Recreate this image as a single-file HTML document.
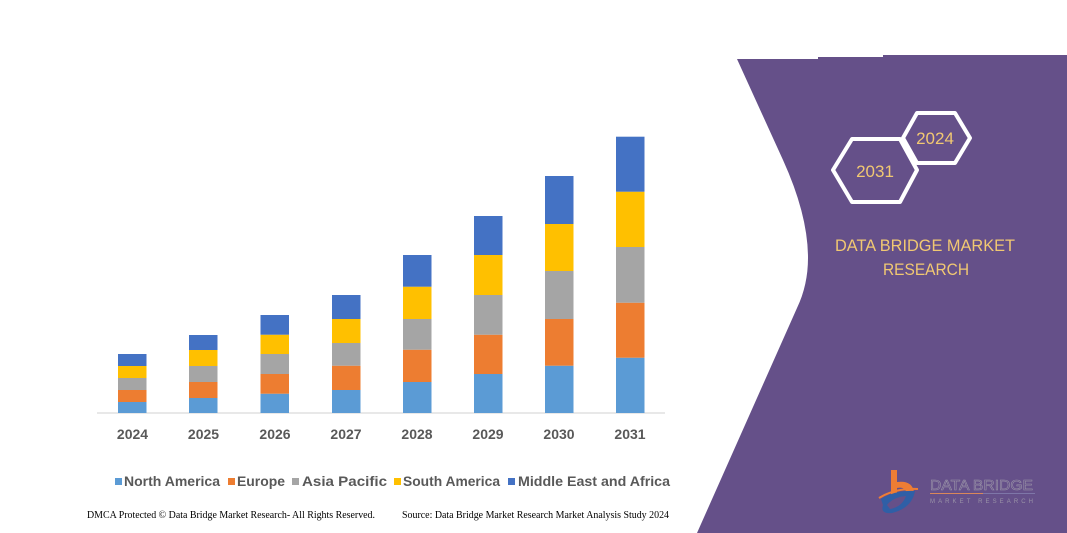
<!DOCTYPE html>
<html>
<head>
<meta charset="utf-8">
<style>
  html, body { margin:0; padding:0; background:#ffffff; }
  body { width:1067px; height:533px; overflow:hidden; }
  svg { display:block; }
</style>
</head>
<body>
<svg width="1067" height="533" viewBox="0 0 1067 533" xmlns="http://www.w3.org/2000/svg">
  <rect x="0" y="0" width="1067" height="533" fill="#ffffff"/>

  <!-- Purple panel -->
  <path d="M737,59 L818,59 L818,57 L883,57 L883,55 L1067,55 L1067,533 L697,533 L797,308 Q808,285 808,258 Q808,215 783,160 Z" fill="#655089"/>

  <!-- Axis line -->
  <line x1="97" y1="413" x2="665" y2="413" stroke="#d9d9d9" stroke-width="1.2"/>

  <!-- Bars: light blue, orange, gray, yellow, dark blue -->
  <g>
    <!-- 2024 -->
    <rect x="118" y="402" width="28.5" height="11" fill="#5b9bd5"/>
    <rect x="118" y="390" width="28.5" height="12" fill="#ed7d31"/>
    <rect x="118" y="378" width="28.5" height="12" fill="#a5a5a5"/>
    <rect x="118" y="366" width="28.5" height="12" fill="#ffc000"/>
    <rect x="118" y="354" width="28.5" height="12" fill="#4472c4"/>
    <!-- 2025 -->
    <rect x="189" y="398" width="28.5" height="15" fill="#5b9bd5"/>
    <rect x="189" y="382" width="28.5" height="16" fill="#ed7d31"/>
    <rect x="189" y="366" width="28.5" height="16" fill="#a5a5a5"/>
    <rect x="189" y="350" width="28.5" height="16" fill="#ffc000"/>
    <rect x="189" y="335" width="28.5" height="15" fill="#4472c4"/>
    <!-- 2026 -->
    <rect x="260.5" y="393.7" width="28.5" height="19.3" fill="#5b9bd5"/>
    <rect x="260.5" y="374" width="28.5" height="19.7" fill="#ed7d31"/>
    <rect x="260.5" y="354" width="28.5" height="20" fill="#a5a5a5"/>
    <rect x="260.5" y="334.7" width="28.5" height="19.3" fill="#ffc000"/>
    <rect x="260.5" y="315" width="28.5" height="19.7" fill="#4472c4"/>
    <!-- 2027 -->
    <rect x="332" y="390" width="28.5" height="23" fill="#5b9bd5"/>
    <rect x="332" y="365.7" width="28.5" height="24.3" fill="#ed7d31"/>
    <rect x="332" y="343" width="28.5" height="22.7" fill="#a5a5a5"/>
    <rect x="332" y="319" width="28.5" height="24" fill="#ffc000"/>
    <rect x="332" y="295" width="28.5" height="24" fill="#4472c4"/>
    <!-- 2028 -->
    <rect x="403" y="382" width="28.5" height="31" fill="#5b9bd5"/>
    <rect x="403" y="349.7" width="28.5" height="32.3" fill="#ed7d31"/>
    <rect x="403" y="319" width="28.5" height="30.7" fill="#a5a5a5"/>
    <rect x="403" y="286.7" width="28.5" height="32.3" fill="#ffc000"/>
    <rect x="403" y="255" width="28.5" height="31.7" fill="#4472c4"/>
    <!-- 2029 -->
    <rect x="474" y="374" width="28.5" height="39" fill="#5b9bd5"/>
    <rect x="474" y="334.7" width="28.5" height="39.3" fill="#ed7d31"/>
    <rect x="474" y="295" width="28.5" height="39.7" fill="#a5a5a5"/>
    <rect x="474" y="255" width="28.5" height="40" fill="#ffc000"/>
    <rect x="474" y="216" width="28.5" height="39" fill="#4472c4"/>
    <!-- 2030 -->
    <rect x="545" y="365.7" width="28.5" height="47.3" fill="#5b9bd5"/>
    <rect x="545" y="319" width="28.5" height="46.7" fill="#ed7d31"/>
    <rect x="545" y="271" width="28.5" height="48" fill="#a5a5a5"/>
    <rect x="545" y="224" width="28.5" height="47" fill="#ffc000"/>
    <rect x="545" y="176" width="28.5" height="48" fill="#4472c4"/>
    <!-- 2031 -->
    <rect x="616" y="357.7" width="28.5" height="55.3" fill="#5b9bd5"/>
    <rect x="616" y="302.7" width="28.5" height="55" fill="#ed7d31"/>
    <rect x="616" y="247" width="28.5" height="55.7" fill="#a5a5a5"/>
    <rect x="616" y="191.7" width="28.5" height="55.3" fill="#ffc000"/>
    <rect x="616" y="136.7" width="28.5" height="55" fill="#4472c4"/>
  </g>

  <!-- Year labels -->
  <g font-family="Liberation Sans, sans-serif" font-weight="bold" font-size="14" fill="#595959" text-anchor="middle">
    <text x="132.5" y="439">2024</text>
    <text x="203.5" y="439">2025</text>
    <text x="275" y="439">2026</text>
    <text x="346" y="439">2027</text>
    <text x="417" y="439">2028</text>
    <text x="488" y="439">2029</text>
    <text x="559" y="439">2030</text>
    <text x="630" y="439">2031</text>
  </g>

  <!-- Legend -->
  <g font-family="Liberation Sans, sans-serif" font-weight="bold" font-size="14" fill="#595959">
    <rect x="115" y="478" width="7" height="7" fill="#5b9bd5"/>
    <text x="124" y="486" textLength="96" lengthAdjust="spacingAndGlyphs">North America</text>
    <rect x="228" y="478" width="7" height="7" fill="#ed7d31"/>
    <text x="237" y="486" textLength="48" lengthAdjust="spacingAndGlyphs">Europe</text>
    <rect x="292" y="478" width="7" height="7" fill="#a5a5a5"/>
    <text x="302" y="486" textLength="85" lengthAdjust="spacingAndGlyphs">Asia Pacific</text>
    <rect x="394" y="478" width="7" height="7" fill="#ffc000"/>
    <text x="403" y="486" textLength="97" lengthAdjust="spacingAndGlyphs">South America</text>
    <rect x="508" y="478" width="7" height="7" fill="#4472c4"/>
    <text x="518" y="486" textLength="152" lengthAdjust="spacingAndGlyphs">Middle East and Africa</text>
  </g>

  <!-- Footer -->
  <g font-family="Liberation Serif, serif" font-size="10" fill="#000000">
    <text x="87" y="518" textLength="288" lengthAdjust="spacingAndGlyphs">DMCA Protected © Data Bridge Market Research-  All Rights Reserved.</text>
    <text x="402" y="518" textLength="267" lengthAdjust="spacingAndGlyphs">Source: Data Bridge Market Research  Market Analysis Study 2024</text>
  </g>

  <!-- Hexagons -->
  <g fill="none" stroke="#ffffff" stroke-width="4" stroke-linejoin="round">
    <polygon points="833,170 852,139 900,139 917,170 900,202 852,202"/>
    <polygon points="903,138 917,113 955,113 970,138 955,163 917,163"/>
  </g>
  <g font-family="Liberation Sans, sans-serif" font-size="17" fill="#f1c872" text-anchor="middle">
    <text x="875" y="177">2031</text>
    <text x="935" y="144">2024</text>
  </g>

  <!-- Brand text -->
  <g font-family="Liberation Sans, sans-serif" font-size="17" fill="#f1c872" text-anchor="middle">
    <text x="925" y="251" textLength="180" lengthAdjust="spacingAndGlyphs">DATA BRIDGE MARKET</text>
    <text x="926" y="275" textLength="86" lengthAdjust="spacingAndGlyphs">RESEARCH</text>
  </g>

  <!-- Logo -->
  <g>
    <!-- orange b -->
    <path d="M891,470 L897,470 L897,482 Q912,480 914,492 L907,494 Q905,486 897,488 L897,496 L891,497 Z" fill="#ee7d34"/>
    <!-- blue swoosh D -->
    <path d="M881,499 Q895,490 915,491 Q912,508 892,513 Q880,514 883,505 Z" fill="#2f5fa6"/>
    <path d="M887,505 Q893,497 906,496 Q902,507 890,509 Z" fill="#655089"/>
    <path d="M879,498 Q895,488 918,489" fill="none" stroke="#ee7d34" stroke-width="2"/>
    <!-- logo text -->
    <text x="930" y="490" font-family="Liberation Sans, sans-serif" font-size="15" fill="none" stroke="#9a93a8" stroke-width="0.6" textLength="103" lengthAdjust="spacingAndGlyphs">DATA BRIDGE</text>
    <line x1="930" y1="493.5" x2="983" y2="493.5" stroke="#d9875a" stroke-width="1"/>
    <line x1="983" y1="493.5" x2="1035" y2="493.5" stroke="#7e76a8" stroke-width="1"/>
    <text x="930" y="503" font-family="Liberation Sans, sans-serif" font-size="6" fill="#9a93a8" textLength="103" lengthAdjust="spacing">MARKET RESEARCH</text>
  </g>
</svg>
</body>
</html>
